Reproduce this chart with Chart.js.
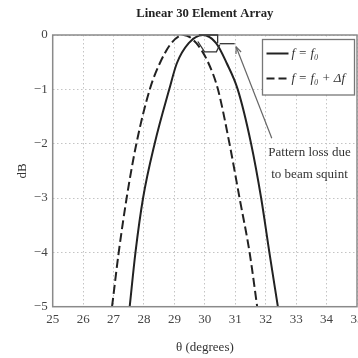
<!DOCTYPE html>
<html>
<head>
<meta charset="utf-8">
<script src="https://cdn.jsdelivr.net/npm/chart.js@4"></script>
<style>
html,body{margin:0;padding:0;overflow:hidden;background:#fff;width:358px;height:358px;}
canvas{display:block;}
</style>
</head>
<body>
<canvas id="c" width="380" height="358"></canvas>
<script>
// ---- data ----
const titleText = "Linear 30 Element Array";
const xTicks = [25, 26, 27, 28, 29, 30, 31, 32, 33, 34, 35];
const yTicks = [-5, -4, -3, -2, -1, 0];
const legendLabels = ["f = f\u2080", "f = f\u2080 + \u0394f"];
// f = f0 (solid)
const thetaF0 = [27.53, 27.72, 27.97, 28.35, 28.83, 29.08, 29.47, 29.93, 30.37, 30.72, 31.08, 31.52, 31.85, 32.12, 32.40];
const dbF0    = [-5,    -4,    -3,    -2,    -1,    -0.52, -0.15, 0,    -0.15, -0.52, -1,    -2,    -3,    -4,    -5];
// f = f0 + Δf (dashed)
const thetaF1 = [26.95, 27.17, 27.43, 27.75, 28.19, 28.52, 28.9, 29.3, 29.72, 30.12, 30.43, 30.81, 31.14, 31.47, 31.72];
const dbF1    = [-5,    -4,    -3,    -2,    -1,    -0.52, -0.15, 0,   -0.15, -0.52, -1,    -2,    -3,    -4,    -5];
// annotation (data units)
const lossShapeX = [[29.8, 30.42, 30.42], [29.77, 29.99, 30.38, 30.49], [30.49, 30.98]];
const lossShapeY = [[0, 0, -0.15], [-0.12, -0.31, -0.31, -0.18], [-0.16, -0.16]];
const arrowX = [32.2, 31.03];
const arrowY = [-1.9, -0.22];
const noteLines = ["Pattern loss due", "to beam squint"];
const noteX = 33.44;
const noteY = [-2.17, -2.57];
const xTitle = "\u03b8 (degrees)";
const yTitle = "dB";

const toPts = (xs, ys) => xs.map((x, i) => ({x: x, y: ys[i]}));
const SERIF = "'Liberation Serif', 'DejaVu Serif', serif";

const extras = {
  id: 'extras',
  afterDatasetsDraw(chart) {
    const {ctx, chartArea: a, scales: {x, y}} = chart;
    ctx.save();
    // frame
    ctx.strokeStyle = '#8a8a8a';
    ctx.lineWidth = 1.5;
    ctx.strokeRect(a.left, a.top, a.right - a.left, a.bottom - a.top);
    // loss shape
    ctx.strokeStyle = '#333';
    ctx.lineWidth = 1.3;
    lossShapeX.forEach((xs, k) => {
      ctx.beginPath();
      xs.forEach((v, i) => {
        const px = x.getPixelForValue(v), py = y.getPixelForValue(lossShapeY[k][i]);
        if (i === 0) ctx.moveTo(px, py); else ctx.lineTo(px, py);
      });
      ctx.stroke();
    });
    // arrow
    const x0 = x.getPixelForValue(arrowX[0]), y0 = y.getPixelForValue(arrowY[0]);
    const x1 = x.getPixelForValue(arrowX[1]), y1 = y.getPixelForValue(arrowY[1]);
    ctx.strokeStyle = '#666';
    ctx.lineWidth = 1.2;
    ctx.beginPath(); ctx.moveTo(x0, y0); ctx.lineTo(x1, y1); ctx.stroke();
    const ang = Math.atan2(y1 - y0, x1 - x0);
    ctx.beginPath();
    ctx.moveTo(x1 - 7 * Math.cos(ang - 0.4), y1 - 7 * Math.sin(ang - 0.4));
    ctx.lineTo(x1, y1);
    ctx.lineTo(x1 - 7 * Math.cos(ang + 0.4), y1 - 7 * Math.sin(ang + 0.4));
    ctx.stroke();
    // note text
    ctx.fillStyle = '#333';
    ctx.font = "13px " + SERIF;
    ctx.textAlign = 'center';
    ctx.textBaseline = 'middle';
    noteLines.forEach((t, i) => ctx.fillText(t, x.getPixelForValue(noteX), y.getPixelForValue(noteY[i])));
    // legend
    const lx = 262.5, ly = 39.5, lw = 92, lh = 55.5;
    ctx.fillStyle = '#fff';
    ctx.fillRect(lx, ly, lw, lh);
    ctx.strokeStyle = '#777';
    ctx.lineWidth = 1.3;
    ctx.strokeRect(lx, ly, lw, lh);
    const rows = [ly + 14, ly + 39];
    ctx.strokeStyle = '#222';
    ctx.lineWidth = 2;
    ctx.beginPath(); ctx.moveTo(lx + 4, rows[0]); ctx.lineTo(lx + 26, rows[0]); ctx.stroke();
    ctx.setLineDash([8, 4]);
    ctx.beginPath(); ctx.moveTo(lx + 4, rows[1]); ctx.lineTo(lx + 26, rows[1]); ctx.stroke();
    ctx.setLineDash([]);
    ctx.fillStyle = '#333';
    ctx.font = "italic 13px " + SERIF;
    ctx.textAlign = 'left';
    legendLabels.forEach((t, i) => ctx.fillText(t, lx + 29, rows[i]));
    // title
    ctx.fillStyle = '#222';
    ctx.font = "bold 12.7px " + SERIF;
    ctx.textAlign = 'center';
    ctx.fillText(titleText, (a.left + a.right) / 2, 14);
    ctx.restore();
  }
};

new Chart(document.getElementById('c'), {
  type: 'line',
  data: {
    datasets: [
      {label: legendLabels[0], data: toPts(thetaF0, dbF0), borderColor: '#222', borderWidth: 2,
       pointRadius: 0, cubicInterpolationMode: 'monotone', fill: false},
      {label: legendLabels[1], data: toPts(thetaF1, dbF1), borderColor: '#222', borderWidth: 2,
       borderDash: [9, 4], pointRadius: 0, cubicInterpolationMode: 'monotone', fill: false}
    ]
  },
  options: {
    responsive: false,
    animation: false,
    layout: {padding: {left: 0, right: 23, top: 35, bottom: 0}},
    plugins: {legend: {display: false}, title: {display: false}, tooltip: {enabled: false}},
    scales: {
      x: {
        type: 'linear', min: xTicks[0], max: xTicks[xTicks.length - 1],
        afterBuildTicks: s => { s.ticks = xTicks.map(v => ({value: v})); },
        afterFit: s => { s.height = 51.3; },
        ticks: {color: '#444', font: {family: SERIF, size: 13}, padding: 5, maxRotation: 0},
        grid: {color: '#c4c4c4', lineWidth: 1, drawTicks: false},
        border: {display: false, dash: [1.5, 2.5]},
        title: {display: true, text: xTitle, color: '#333', font: {family: SERIF, size: 13}, padding: {top: 0, bottom: 3}}
      },
      y: {
        type: 'linear', min: yTicks[0], max: yTicks[yTicks.length - 1],
        afterBuildTicks: s => { s.ticks = yTicks.map(v => ({value: v})); },
        afterFit: s => { s.width = 52.7; },
        ticks: {color: '#444', font: {family: SERIF, size: 13}, padding: 5,
                callback: v => (v < 0 ? '\u2212' + Math.abs(v) : String(v))},
        grid: {color: '#c4c4c4', lineWidth: 1, drawTicks: false},
        border: {display: false, dash: [1.5, 2.5]},
        title: {display: true, text: yTitle, color: '#333', font: {family: SERIF, size: 13}, padding: {top: 15, bottom: 0}}
      }
    }
  },
  plugins: [extras]
});
</script>
</body>
</html>
